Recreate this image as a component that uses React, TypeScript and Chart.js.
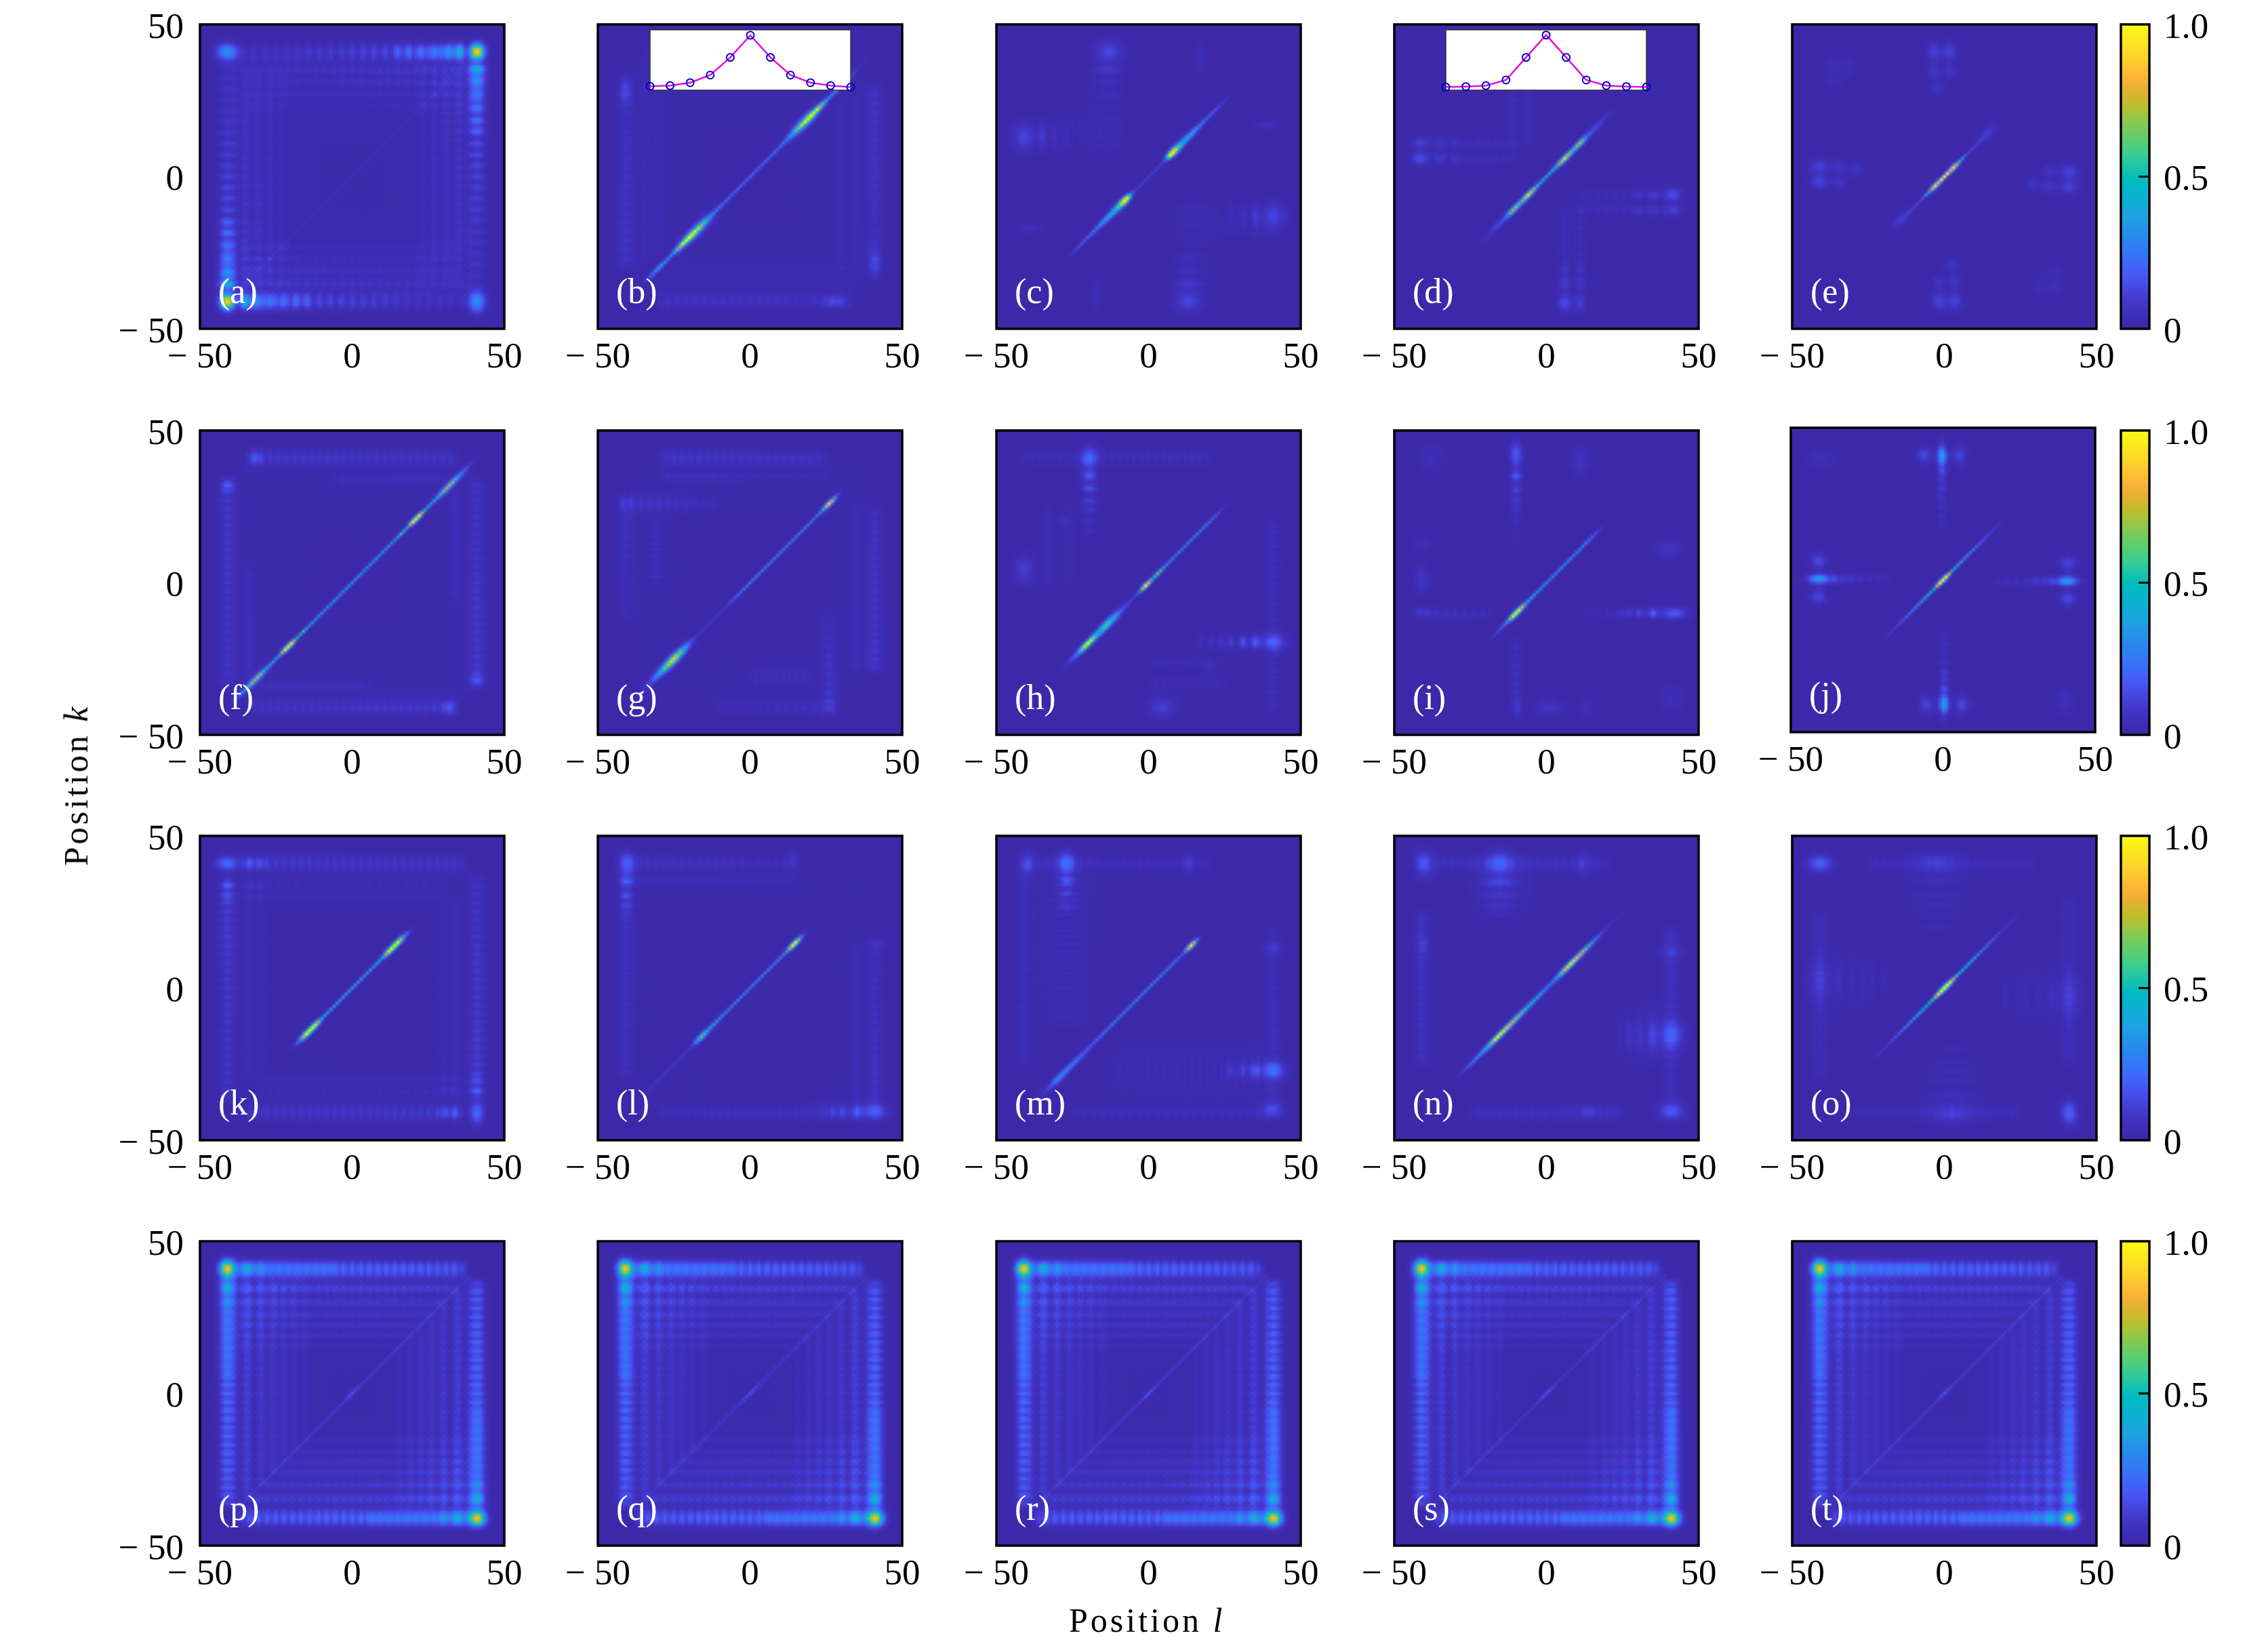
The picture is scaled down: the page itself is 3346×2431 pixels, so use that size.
import React, { useEffect, useRef } from "react";
import { Chart, registerables } from "chart.js";
Chart.register(...registerables);

// NOTE: the heatmap cells are NOT read one by one from the reference. Each panel is
// described by hand-estimated features (ridges, spots, stripe bands),
// and the 101x101 cells are rebuilt from them, so fine texture is approximate.

const FONT = "'Liberation Serif'";
const axisTicks = [-50, 0, 50];
const cbarTicks = [0, 0.5, 1];
const cbarTickLabels = ["0", "0.5", "1.0"];
const panelLabels = "abcdefghijklmnopqrst".split("").map((c) => `(${c})`);
const cmapStops = [0, 0.085, 0.16, 0.219, 0.293, 0.367, 0.44, 0.49, 0.552, 0.59, 0.64, 0.686, 0.737, 0.79, 0.834, 0.886, 1];
const cmapColors = ["#3c28a8", "#4236c8", "#4a50f0", "#3d6bfb", "#2a86f0", "#1fa2e2", "#0bb3d2", "#00bcc0", "#2cc8a0", "#45cf85", "#6ccc66", "#8fc94d", "#bfbe2a", "#e9b033", "#ffb63a", "#fdd02e", "#fafb14"];
const insetSites = [-5, -4, -3, -2, -1, 0, 1, 2, 3, 4, 5];
const insetB = [0.064, 0.075, 0.124, 0.25, 0.543, 0.91, 0.543, 0.25, 0.124, 0.075, 0.05];
const insetD = [0.052, 0.06, 0.075, 0.169, 0.543, 0.914, 0.543, 0.169, 0.075, 0.06, 0.052];

// ridge: [centre, sigmaAlong, sigmaAcross, amp, power?]   blob: [l, k, sigmaL, sigmaK, amp]
// band: [k, sigmaAcross, lFrom, lTo, ampFrom, ampTo, stripePeriod, stripeDepth]
const aRidges = [[0, 38, 0.5, 0.03, 6]];
const aBlobs = [[41, 41, 1.8, 1.6, 0.9], [-41, 41, 1.9, 2.4, 0.33], [41, 35, 1.7, 1.1, 0.34], [41, 31, 1.7, 1, 0.24], [41, 27, 1.7, 0.8, 0.2], [41, 23, 1.7, 0.8, 0.16], [41, 19, 1.7, 0.8, 0.12], [41, 15.5, 1.7, 0.8, 0.1]];
const aBands = [[41, 1.9, -37, 37, 0.06, 0.2, 3.6, 0.6], [35, 1, -36, 36, 0.04, 0.08, 3, 0.5], [31, 1, -36, 36, 0.03, 0.06, 3, 0.5], [27, 0.9, -36, 36, 0.03, 0.045, 3, 0.5], [23, 0.9, -36, 36, 0.02, 0.035, 3, 0.5]];

const bRidges = [[0, 34, 0.45, 0.2, 8], [18, 3.5, 1.4, 0.45], [20.5, 2.5, 0.7, 0.7], [30, 2, 0.8, 0.22]];
const bBlobs = [[-41, 28, 1.3, 3, 0.1]];
const bBands = [[41, 1.8, -33, 30, 0.05, 0.08, 3, 0.4], [35, 1, -33, 28, 0.025, 0.03, 3, 0.5], [30, 1, -33, 25, 0.02, 0.025, 3, 0.5]];

const cRidges = [[7.5, 1, 0.8, 0.95], [9, 1.5, 1.2, 0.35], [12, 3, 1, 0.3], [17, 4, 0.6, 0.2], [23, 2, 0.35, 0.08], [0, 6, 0.35, 0.11, 6]];
const cBlobs = [[-13, 41, 3, 2.5, 0.13], [-13, 35, 3, 1, 0.08], [-13, 31, 3, 0.8, 0.05], [-13, 27, 3, 0.8, 0.04], [17, 39, 1, 3, 0.05]];
const cBands = [[15, 4, -38, -8, 0.02, 0.02, 3.2, 0.7]];

const dRidges = [[7.5, 3.5, 0.7, 0.45], [6, 1.2, 0.7, 0.5], [11, 1.2, 0.7, 0.45], [0, 5, 0.5, 0.3, 6], [16, 3, 0.9, 0.12]];
const dBlobs = [[-41.5, 6, 1.9, 1.6, 0.15], [-41.5, 11, 1.9, 1.2, 0.12], [6, -35, 1.2, 1.1, 0.07], [11, -35, 1.2, 1.1, 0.05], [6, -30, 1, 0.9, 0.05], [11, -30, 1, 0.9, 0.04]];
const dBands = [[6, 1.1, -38, -10, 0.05, 0.04, 2.8, 0.6], [11, 1.1, -38, -10, 0.05, 0.04, 2.8, 0.6]];

const eRidges = [[2.8, 1.4, 0.6, 0.95], [5.5, 1.2, 0.4, 0.25], [0.5, 0.6, 0.45, 0.7], [14, 1.8, 1.7, 0.1], [9.5, 2, 0.35, 0.12]];
const eBlobs = [[-41, 3.4, 2.1, 1.6, 0.12], [-41, -1.7, 2.1, 1.6, 0.13], [-34.6, 3.4, 1.5, 1.4, 0.08], [-34.6, -1.7, 1.5, 1.4, 0.085], [-29, 2.5, 1.3, 1.9, 0.05], [-36, 36, 2, 2, 0.05], [-36, 31, 2, 1.3, 0.035], [-30, 2.5, 3, 1, 0.03]];
const eBands = [];

const fRidges = [[0, 36.5, 0.45, 0.3, 10], [21, 1.5, 0.6, 1], [32, 2.2, 0.6, 0.3], [32, 3.5, 1.2, 0.18], [16, 0.8, 0.5, 0.25]];
const fBlobs = [[-41, 32, 1.5, 1.5, 0.1]];
const fBands = [[41, 1.8, -34, 34, 0.1, 0.08, 2.7, 0.4], [34, 1.1, -5, 30, 0.04, 0.05, 3, 0.4]];

const gRidges = [[26, 1.5, 0.6, 0.85], [10, 16, 0.45, 0.24, 6], [-25, 2.8, 1.2, 0.65], [-28, 4, 1, 0.25], [-12, 8, 0.4, 0.07]];
const gBlobs = [];
const gBands = [[41, 1.8, -29, 25, 0.1, 0.06, 2.8, 0.4], [35, 1, -29, 25, 0.05, 0.03, 3, 0.4], [26, 1.7, -43, -10, 0.1, 0.03, 3, 0.5], [-41, 1.6, -12, 28, 0.04, 0.06, 3, 0.4], [-31, 1.6, 0, 20, 0.05, 0.05, 2.2, 0.7]];

const hRidges = [[12, 12, 0.45, 0.24, 6], [-1, 1.2, 0.6, 0.9], [3, 1.5, 0.6, 0.4], [-14, 3, 1.1, 0.55], [-20, 1.6, 0.8, 0.9], [-23, 2.5, 0.8, 0.2], [-6, 4, 0.4, 0.1]];
const hBlobs = [[-19.5, 41, 1.8, 2.7, 0.18], [-19.5, 35, 1.6, 1.1, 0.17], [-19.5, 31, 1.6, 1, 0.17], [-19.5, 27, 1.6, 0.9, 0.11], [-19.5, 24, 1.6, 0.8, 0.08], [-19.5, 20.5, 1.6, 0.8, 0.06], [-19.5, 17, 1.6, 0.8, 0.05], [4.5, -41, 3, 2.2, 0.11], [20, -28, 1.2, 1.2, 0.05]];
const hBands = [[41, 1.6, -42, 20, 0.05, 0.06, 2.4, 0.6], [-33, 1.1, 0, 25, 0.04, 0.04, 2.5, 0.6], [-26, 1.1, 0, 25, 0.03, 0.03, 2.5, 0.6]];

const iRidges = [[4, 13, 0.45, 0.3, 6], [-10, 1.5, 0.65, 1], [-9, 3, 0.7, 0.25], [-14, 2, 0.4, 0.12], [-17, 3, 0.35, 0.05]];
const iBlobs = [[-10, 42, 1.3, 3, 0.18], [-10, 35, 1.1, 1.1, 0.15], [-10, 30.5, 1.1, 0.9, 0.11], [-10, 27, 1.1, 0.9, 0.08], [-10, 24, 1, 0.8, 0.05], [-10, 20.5, 1, 0.8, 0.03], [11, 40, 2, 3, 0.07], [-41, 1, 1.6, 3, 0.08], [-38, 41, 3, 3, 0.04], [-9.5, -41, 0.9, 2, 0.06], [13, -41, 1.5, 2, 0.05]];
const iBands = [[-10, 1.3, -43, -18, 0.07, 0.05, 3, 0.6], [-10, 1.3, 10, 38, 0.02, 0.05, 2.5, 0.7]];

const jRidges = [[0, 17, 0.45, 0.22, 4], [0, 1.3, 0.6, 1], [0, 5, 0.45, 0.25]];
const jBlobs = [[-0.3, 41, 0.9, 3, 0.17], [-6, 41, 1.2, 2.5, 0.06], [6, 41, 1.2, 2.5, 0.06], [-0.3, 35, 0.9, 1.1, 0.06], [-0.3, 31, 0.9, 1.1, 0.05], [-41, 0.5, 1.6, 1.1, 0.2], [-41, 6.5, 1.6, 2, 0.08], [-41, -4.6, 1.6, 2, 0.08], [-40, 40, 2, 3, 0.05]];
const jBands = [[0.5, 1.1, -40, -17, 0.09, 0.05, 3, 0.6]];

const kRidges = [[14, 1.8, 0.8, 0.95], [0, 14, 0.45, 0.32, 6], [12, 2, 0.7, 0.2], [16.5, 1.5, 0.5, 0.2]];
const kBlobs = [[-41, 41, 1.6, 2.6, 0.22], [-41, 34, 1.3, 1.1, 0.1], [-41, 30, 1.3, 1.1, 0.07]];
const kBands = [[41, 1.8, -36, 37, 0.12, 0.08, 2.8, 0.5], [34, 1.1, -36, 30, 0.04, 0.03, 3, 0.5], [30, 1, -36, 30, 0.03, 0.025, 3, 0.5]];

const lRidges = [[0, 16, 0.45, 0.26, 6], [14.5, 1.4, 0.65, 1], [-16, 1.5, 0.8, 0.45], [-12, 2, 0.8, 0.12], [-26, 6, 0.5, 0.08]];
const lBlobs = [[-40.5, 41, 1.8, 2.6, 0.2], [-40.5, 35, 1.6, 1.1, 0.13], [-40.5, 30.5, 1.6, 1, 0.1], [-40.5, 27, 1.6, 0.9, 0.08], [-40.5, 24, 1.6, 0.8, 0.05], [14.4, 42, 1.2, 2, 0.07]];
const lBands = [[41, 1.7, -38, 14, 0.07, 0.05, 2.8, 0.4], [35, 1.1, -38, 14, 0.05, 0.03, 3, 0.4], [-41, 1.6, -30, 38, 0.05, 0.07, 2.5, 0.4]];

const mRidges = [[14, 1.2, 0.6, 1], [-3, 15, 0.45, 0.26, 6], [-26, 5, 0.8, 0.28], [-30, 1.5, 1.2, 0.1]];
const mBlobs = [[-27, 41, 1.9, 2.6, 0.2], [-40, 41, 1.6, 2.6, 0.1], [-27, 35, 1.6, 1.1, 0.14], [-27, 31, 1.6, 1, 0.09], [-27, 27, 1.6, 0.9, 0.07], [13, 41, 1.2, 2, 0.08]];
const mBands = [[41, 1.6, -42, 20, 0.07, 0.04, 2.8, 0.4], [-27, 5, -12, 38, 0.03, 0.05, 2.4, 0.7], [-41, 1.6, -25, 40, 0.05, 0.05, 3, 0.4]];

const nRidges = [[-14.5, 4, 0.7, 0.8], [7, 2.5, 0.7, 0.75], [12, 3, 0.6, 0.6], [-5, 5, 0.6, 0.42], [-16, 0.8, 0.5, 0.45], [-22, 3, 0.6, 0.18], [-26, 2, 0.5, 0.06], [20, 5, 0.35, 0.05]];
const nBlobs = [[-40.5, 41, 1.9, 2.8, 0.18], [-15.5, 41, 3.2, 2.8, 0.16], [-15.5, 34.7, 4, 1.1, 0.11], [-15.5, 30.5, 4, 1, 0.08], [-15.5, 27, 4, 0.9, 0.07], [-15.5, 24, 4, 0.8, 0.04], [12, 41, 1.2, 2.5, 0.07], [-40.5, 14, 1.1, 2, 0.07]];
const nBands = [[41, 1.6, -38, 20, 0.06, 0.07, 2.8, 0.4], [-41, 1.6, -25, 25, 0.06, 0.07, 2.5, 0.4], [34, 4, -25, -5, 0.02, 0.02, 2.5, 0.6]];

const oRidges = [[0, 1.8, 0.7, 0.95], [0, 16, 0.45, 0.32, 4], [5, 3, 0.5, 0.15], [19, 4, 0.5, 0.05]];
const oBlobs = [[-41, 41, 1.8, 2.8, 0.2], [-2.5, 41, 5, 2.5, 0.08], [-2.5, 35, 5, 1.1, 0.05], [-2.5, 30.5, 5, 1, 0.04], [-2.5, 27, 5, 0.9, 0.04], [-2.5, 24, 5, 0.8, 0.03], [-2.5, 20, 4, 0.8, 0.025]];
const oBands = [[41, 1.7, -25, 30, 0.05, 0.04, 2.5, 0.4]];

const pRidges = [[0, 38, 0.45, 0.07, 4], [0, 1.5, 0.5, 0.1]];
const pBlobs = [[-41, 41, 1.9, 1.7, 0.85], [-34.5, 41, 0.9, 1.4, 0.22], [-30, 41, 0.9, 1.4, 0.1]];
const pBands = [[41, 1.8, -38, -5, 0.27, 0.25, 3, 0.12], [41, 1.8, -5, 37, 0.25, 0.2, 2.8, 0.45], [34.5, 1, -38, 34, 0.11, 0.09, 2.8, 0.3], [30, 0.9, -38, 30, 0.09, 0.07, 2.8, 0.3], [26, 0.9, -38, 26, 0.07, 0.055, 2.8, 0.3], [22.5, 0.8, -38, 22, 0.055, 0.045, 2.8, 0.3], [19, 0.8, -38, 19, 0.045, 0.035, 2.8, 0.3], [15.5, 0.7, -38, 15, 0.035, 0.03, 2.8, 0.3]];

type Spec = { r: number[][]; b: number[][]; s: number[][]; inv: boolean; lat: number };
const specs: Spec[] = [
  { r: aRidges, b: aBlobs, s: aBands, inv: true, lat: 0.04 },
  { r: bRidges, b: bBlobs, s: bBands, inv: true, lat: 0.02 },
  { r: cRidges, b: cBlobs, s: cBands, inv: true, lat: 0 },
  { r: dRidges, b: dBlobs, s: dBands, inv: true, lat: 0.008 },
  { r: eRidges, b: eBlobs, s: eBands, inv: true, lat: 0 },
  { r: fRidges, b: fBlobs, s: fBands, inv: true, lat: 0.02 },
  { r: gRidges, b: gBlobs, s: gBands, inv: false, lat: 0.015 },
  { r: hRidges, b: hBlobs, s: hBands, inv: false, lat: 0.005 },
  { r: iRidges, b: iBlobs, s: iBands, inv: false, lat: 0 },
  { r: jRidges, b: jBlobs, s: jBands, inv: true, lat: 0 },
  { r: kRidges, b: kBlobs, s: kBands, inv: true, lat: 0.015 },
  { r: lRidges, b: lBlobs, s: lBands, inv: false, lat: 0.012 },
  { r: mRidges, b: mBlobs, s: mBands, inv: false, lat: 0.008 },
  { r: nRidges, b: nBlobs, s: nBands, inv: false, lat: 0.008 },
  { r: oRidges, b: oBlobs, s: oBands, inv: true, lat: 0.005 },
  { r: pRidges, b: pBlobs, s: pBands, inv: true, lat: 0.045 },
  { r: pRidges, b: pBlobs, s: pBands, inv: true, lat: 0.045 },
  { r: pRidges, b: pBlobs, s: pBands, inv: true, lat: 0.045 },
  { r: pRidges, b: pBlobs, s: pBands, inv: true, lat: 0.045 },
  { r: pRidges, b: pBlobs, s: pBands, inv: true, lat: 0.045 },
];

function buildCells(sp: Spec) {
  const ridges = new Map<string, number[]>();
  for (const q of sp.r) {
    ridges.set(q[0].toFixed(1) + "|" + q[3], q);
    if (sp.inv) { const m = [-q[0], ...q.slice(1)]; ridges.set(m[0].toFixed(1) + "|" + q[3], m); }
  }
  const blobs = new Map<string, number[]>();
  const addBlob = (q: number[]) => blobs.set(q[0].toFixed(1) + "," + q[1].toFixed(1), q);
  for (const q of sp.b) {
    const [l, k, a, c, v] = q;
    addBlob([l, k, a, c, v]); addBlob([k, l, c, a, v]);
    if (sp.inv) { addBlob([-l, -k, a, c, v]); addBlob([-k, -l, c, a, v]); }
  }
  const bands: { horiz: boolean; q: number[] }[] = [];
  for (const q of sp.s) {
    bands.push({ horiz: true, q }, { horiz: false, q });
    if (sp.inv) {
      const m = [-q[0], q[1], -q[3], -q[2], q[5], q[4], q[6], q[7]];
      bands.push({ horiz: true, q: m }, { horiz: false, q: m });
    }
  }
  const rs = [...ridges.values()], bs = [...blobs.values()];
  const cells: { x: number; y: number; v: number }[] = [];
  for (let k = -50; k <= 50; k++) {
    for (let l = -50; l <= 50; l++) {
      let v = 0;
      for (const [c, sa, sp2, a, pw] of rs) {
        const al = (l + k) / 2 - c, pe = l - k;
        if (Math.abs(pe) > 8) continue;
        const along = pw ? Math.exp(-Math.pow(Math.abs(al / sa), pw)) : Math.exp(-0.5 * (al / sa) ** 2);
        v += a * along * Math.exp(-0.5 * (pe / sp2) ** 2);
      }
      for (const [x0, y0, a, c, amp] of bs) {
        const dx = (l - x0) / a, dy = (k - y0) / c;
        const e = dx * dx + dy * dy;
        if (e < 30) v += amp * Math.exp(-0.5 * e);
      }
      for (const { horiz, q } of bands) {
        const along = horiz ? l : k, across = horiz ? k : l;
        const [pos, w, from, to, va, vb, per, depth] = q;
        const d = (across - pos) / w;
        if (Math.abs(d) > 4) continue;
        const inA = Math.min(1, Math.max(0, (along - from + 2) / 4)), inB = Math.min(1, Math.max(0, (to - along + 2) / 4));
        if (inA * inB === 0) continue;
        const t = Math.min(1, Math.max(0, (along - from) / (to - from)));
        const stripe = 1 - depth * (0.5 - 0.5 * Math.cos((2 * Math.PI * Math.abs(along)) / per));
        v += (va + (vb - va) * t) * inA * inB * stripe * Math.exp(-0.5 * d * d);
      }
      if (sp.lat) {
        const edge = Math.max(Math.abs(l), Math.abs(k));
        if (edge < 40) v += sp.lat * (0.35 + 0.65 * (edge / 40)) * ((l + k) % 2 === 0 ? 1 : 0.25);
      }
      cells.push({ x: l, y: k, v: Math.min(1, v) });
    }
  }
  return cells;
}

const rgbStops = cmapColors.map((h) => [parseInt(h.slice(1, 3), 16), parseInt(h.slice(3, 5), 16), parseInt(h.slice(5, 7), 16)]);
function cmap(v: number) {
  let i = 0;
  while (i < cmapStops.length - 2 && v > cmapStops[i + 1]) i++;
  const t = Math.min(1, Math.max(0, (v - cmapStops[i]) / (cmapStops[i + 1] - cmapStops[i])));
  return rgbStops[i].map((c, j) => Math.round(c + (rgbStops[i + 1][j] - c) * t));
}

const LEFT = [295, 882, 1470, 2057, 2644];
const TOP = [36, 635, 1233, 1831];
const SIZE = 449;
const ML = 190, MR = 60, MT = 60, MB = 90;
const TICK_SIZE = 53;
const tickText = (v: any) => (v < 0 ? "\u2212 " + -v : String(v));

function drawCells(chart: any, nx: number, ny: number, x0: number, x1: number, y0: number, y1: number) {
  const pts = chart.data.datasets[0].data;
  const off = document.createElement("canvas");
  off.width = nx; off.height = ny;
  const oc = off.getContext("2d")!;
  const img = oc.createImageData(nx, ny);
  pts.forEach((p: any, idx: number) => {
    const col = idx % nx, row = ny - 1 - Math.floor(idx / nx);
    const [r, g, b] = cmap(p.v);
    const o = (row * nx + col) * 4;
    img.data[o] = r; img.data[o + 1] = g; img.data[o + 2] = b; img.data[o + 3] = 255;
  });
  oc.putImageData(img, 0, 0);
  const { ctx, chartArea: a, scales } = chart;
  const px0 = scales.x.getPixelForValue(x0), px1 = scales.x.getPixelForValue(x1);
  const py0 = scales.y.getPixelForValue(y1), py1 = scales.y.getPixelForValue(y0);
  ctx.save();
  ctx.beginPath(); ctx.rect(a.left, a.top, a.right - a.left, a.bottom - a.top); ctx.clip();
  ctx.imageSmoothingEnabled = true;
  ctx.drawImage(off, px0, py0, px1 - px0, py1 - py0);
  ctx.restore();
}

function HeatPanel({ index }: { index: number }) {
  const ref = useRef<HTMLCanvasElement>(null);
  const col = index % 5, row = Math.floor(index / 5);
  const dx = index === 9 ? -2 : 0, dy = index === 9 ? -4 : 0;
  useEffect(() => {
    const chart = new Chart(ref.current!, {
      type: "scatter",
      data: { datasets: [{ data: buildCells(specs[index]) as any, pointRadius: 0, showLine: false, parsing: false, normalized: true } as any] },
      options: {
        responsive: false, animation: false, devicePixelRatio: 1, events: [],
        layout: { padding: { top: MT, right: MR, left: 0, bottom: 0 } },
        plugins: { legend: { display: false }, tooltip: { enabled: false } },
        scales: {
          x: {
            type: "linear", min: -50, max: 50, afterBuildTicks: (s: any) => { s.ticks = axisTicks.map((value) => ({ value })); },
            grid: { display: false, drawTicks: false }, border: { display: false },
            ticks: { autoSkip: false, maxRotation: 0, padding: 11, color: "#000", font: { family: FONT, size: TICK_SIZE }, callback: tickText },
            afterFit: (s: any) => { s.height = MB; },
          },
          y: {
            type: "linear", min: -50, max: 50, afterBuildTicks: (s: any) => { s.ticks = axisTicks.map((value) => ({ value })); },
            grid: { display: false, drawTicks: false }, border: { display: false },
            ticks: { display: col === 0, autoSkip: false, padding: 24, labelOffset: 6, color: "#000", font: { family: FONT, size: TICK_SIZE }, callback: tickText },
            afterFit: (s: any) => { s.width = ML; },
          },
        },
      } as any,
      plugins: [{
        id: "heat",
        beforeDatasetsDraw: (c: any) => drawCells(c, 101, 101, -50.5, 50.5, -50.5, 50.5),
        afterDraw: (c: any) => {
          const { ctx, chartArea: a } = c;
          ctx.save();
          ctx.fillStyle = "#fff"; ctx.font = `52px ${FONT}`; ctx.textAlign = "left"; ctx.textBaseline = "middle";
          ctx.fillText(panelLabels[index], a.left + 27, a.bottom - 52);
          ctx.strokeStyle = "#000"; ctx.lineWidth = 3.5;
          ctx.strokeRect(a.left, a.top, a.right - a.left, a.bottom - a.top);
          ctx.restore();
        },
      }],
    });
    return () => chart.destroy();
  }, [index]);
  return <canvas ref={ref} width={ML + SIZE + MR} height={MT + SIZE + MB}
    style={{ position: "absolute", left: LEFT[col] - ML + dx, top: TOP[row] - MT + dy, width: ML + SIZE + MR, height: MT + SIZE + MB }} />;
}

function ColorBar({ row }: { row: number }) {
  const ref = useRef<HTMLCanvasElement>(null);
  const CW = 42;
  useEffect(() => {
    const levels = Array.from({ length: 64 }, (_, i) => i / 63);
    const chart = new Chart(ref.current!, {
      type: "scatter",
      data: { datasets: [{ data: levels.map((v) => ({ x: 0, y: v, v })) as any, pointRadius: 0, showLine: false } as any] },
      options: {
        responsive: false, animation: false, devicePixelRatio: 1, events: [],
        layout: { padding: { top: MT, left: 10, right: 0, bottom: MB } },
        plugins: { legend: { display: false }, tooltip: { enabled: false } },
        scales: {
          x: { display: false, type: "linear", min: -0.5, max: 0.5 },
          y: {
            position: "right", type: "linear", min: 0, max: 1,
            afterBuildTicks: (s: any) => { s.ticks = cbarTicks.map((value) => ({ value })); },
            grid: { display: false, drawTicks: false }, border: { display: false },
            ticks: { autoSkip: false, padding: 21, labelOffset: 6, color: "#000", font: { family: FONT, size: TICK_SIZE }, callback: (v: any) => cbarTickLabels[cbarTicks.indexOf(v)] },
            afterFit: (s: any) => { s.width = 120; },
          },
        },
      } as any,
      plugins: [{
        id: "bar",
        beforeDatasetsDraw: (c: any) => drawCells(c, 1, 64, -0.5, 0.5, -0.5 / 63, 1 + 0.5 / 63),
        afterDraw: (c: any) => {
          const { ctx, chartArea: a, scales } = c;
          ctx.save();
          ctx.strokeStyle = "#000"; ctx.lineWidth = 3.5;
          ctx.strokeRect(a.left, a.top, a.right - a.left, a.bottom - a.top);
          const y = scales.y.getPixelForValue(0.5);
          ctx.lineWidth = 3;
          ctx.beginPath(); ctx.moveTo(a.right - 16, y); ctx.lineTo(a.right, y); ctx.stroke();
          ctx.restore();
        },
      }],
    });
    return () => chart.destroy();
  }, [row]);
  return <canvas ref={ref} width={10 + CW + 120} height={MT + SIZE + MB}
    style={{ position: "absolute", left: 3129 - 10, top: TOP[row] - MT, width: 10 + CW + 120, height: MT + SIZE + MB }} />;
}

function Inset({ values, left }: { values: number[]; left: number }) {
  const ref = useRef<HTMLCanvasElement>(null);
  const PAD = 12;
  useEffect(() => {
    const chart = new Chart(ref.current!, {
      type: "line",
      data: {
        labels: insetSites.map(String),
        datasets: [{ data: values, borderColor: "#e010e0", borderWidth: 2.5, tension: 0, clip: false as any, pointRadius: 5.5, pointBorderColor: "#0000cc", pointBorderWidth: 2, pointBackgroundColor: "rgba(0,0,0,0)" }],
      },
      options: {
        responsive: false, animation: false, devicePixelRatio: 1, events: [],
        layout: { padding: PAD },
        plugins: { legend: { display: false }, tooltip: { enabled: false } },
        scales: { x: { display: false, offset: false }, y: { display: false, min: 0, max: 1 } },
      } as any,
      plugins: [{
        id: "insetBack",
        beforeDatasetsDraw: (c: any) => {
          const { ctx, chartArea: a } = c;
          ctx.save();
          ctx.fillStyle = "#fff"; ctx.fillRect(a.left, a.top, a.right - a.left, a.bottom - a.top);
          ctx.strokeStyle = "#333"; ctx.lineWidth = 1.5;
          ctx.strokeRect(a.left, a.top, a.right - a.left, a.bottom - a.top);
          ctx.restore();
        },
      }],
    });
    return () => chart.destroy();
  }, [values]);
  return <canvas ref={ref} width={296 + 2 * PAD} height={89 + 2 * PAD}
    style={{ position: "absolute", left: left - PAD, top: 44 - PAD, width: 296 + 2 * PAD, height: 89 + 2 * PAD }} />;
}

export default function App() {
  const labelStyle: React.CSSProperties = { position: "absolute", fontFamily: FONT, fontSize: 50, letterSpacing: 4, color: "#000", whiteSpace: "nowrap", lineHeight: "60px" };
  return (
    <div style={{ position: "absolute", left: 0, top: 0, width: 3346, height: 2431, background: "#fff", overflow: "hidden" }}>
      {specs.map((_, i) => <HeatPanel key={i} index={i} />)}
      {TOP.map((_, r) => <ColorBar key={r} row={r} />)}
      <Inset values={insetB} left={959} />
      <Inset values={insetD} left={2133} />
      <div style={{ ...labelStyle, left: 1577, top: 2360 }}>Position <i>l</i></div>
      <div style={{ ...labelStyle, left: 112, top: 1158, transform: "translate(-50%,-50%) rotate(-90deg)" }}>Position <i>k</i></div>
    </div>
  );
}
